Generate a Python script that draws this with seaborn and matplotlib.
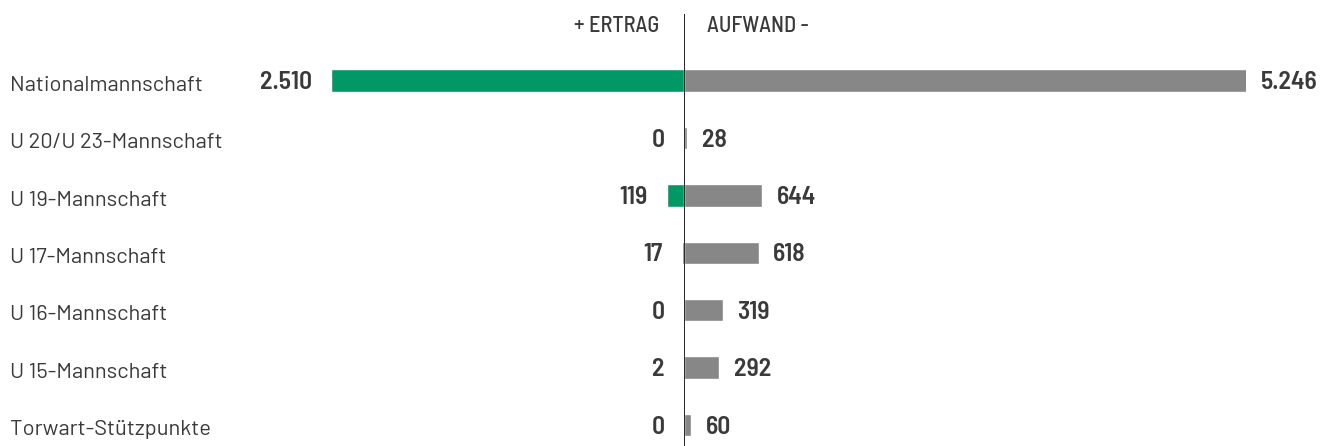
import matplotlib.pyplot as plt
import matplotlib.transforms as mtransforms
import seaborn as sns
import pandas as pd

# Daten (in Tausend EUR)
teams = ['Nationalmannschaft', 'U 20/U 23-Mannschaft', 'U 19-Mannschaft',
         'U 17-Mannschaft', 'U 16-Mannschaft', 'U 15-Mannschaft', 'Torwart-Stützpunkte']
ertrag = [2510, 0, 119, 17, 0, 2, 0]
aufwand = [5246, 28, 644, 618, 319, 292, 60]

df = pd.DataFrame({'team': teams, 'ertrag': ertrag, 'aufwand': aufwand})

sns.set_theme(style='white')
plt.rcParams['font.family'] = ['Barlow', 'Roboto', 'DejaVu Sans']

green = '#009865'
grey = '#878787'
txt = '#3a3a3a'
narrow = ['Barlow Semi Condensed', 'DejaVu Sans']

W, H = 1321, 446
fig = plt.figure(figsize=(W / 100, H / 100), dpi=100)

# axes positions in pixels
center = 684
top_px, bottom_px = 14, 446
ax_l = fig.add_axes([300 / W, 0, (center - 300) / W, (bottom_px - top_px) / H])
ax_r = fig.add_axes([center / W, 0, (1246 - center) / W, (bottom_px - top_px) / H])

left_max = 2733    # scale of the Ertrag side
right_max = 4650   # Aufwand side, Nationalmannschaft bar runs off the end

sns.barplot(data=df, x='ertrag', y='team', orient='h', color=green, saturation=1,
            width=0.39, errorbar=None, ax=ax_l)
sns.barplot(data=df, x='aufwand', y='team', orient='h', color=grey, saturation=1,
            width=0.39, errorbar=None, ax=ax_r)

ax_l.set_xlim(left_max, 0)
ax_r.set_xlim(0, right_max)
for ax in (ax_l, ax_r):
    ax.set_ylim(6.366, -1.162)
    ax.set_xlabel('')
    ax.set_ylabel('')
    ax.set_xticks([])
    ax.set_yticks([])
    sns.despine(ax=ax, left=True, bottom=True)

# Mittellinie
ax_r.axvline(0, color='black', lw=1.2, zorder=5)

def fmt(v):
    return f'{v:,}'.replace(',', '.')

for i, (e, a) in enumerate(zip(ertrag, aufwand)):
    ax_l.annotate(fmt(e), xy=(e, i), xytext=(-14, -1.5), textcoords='offset points',
                  ha='right', va='center', fontsize=18.5, fontweight='semibold',
                  color=txt, family=narrow)
    ax_r.annotate(fmt(a), xy=(min(a, right_max), i), xytext=(10.5, -1.5),
                  textcoords='offset points', ha='left', va='center', fontsize=18.5,
                  fontweight='semibold', color=txt, family=narrow, annotation_clip=False)

# Teamnamen links
trans = mtransforms.blended_transform_factory(fig.transFigure, ax_l.transData)
for i, t in enumerate(teams):
    ax_l.text(10 / W, i + 0.08, t, transform=trans, ha='left', va='center',
              fontsize=15.8, color=txt)

# Kopfzeile
fig.text((center - 25) / W, 1 - 26 / H, '+ ERTRAG', ha='right', va='center',
         fontsize=16, fontweight='medium', color=txt, family=narrow)
fig.text((center + 23) / W, 1 - 26 / H, 'AUFWAND -', ha='left', va='center',
         fontsize=16, fontweight='medium', color=txt, family=narrow)

plt.savefig('out.png', dpi=100)
